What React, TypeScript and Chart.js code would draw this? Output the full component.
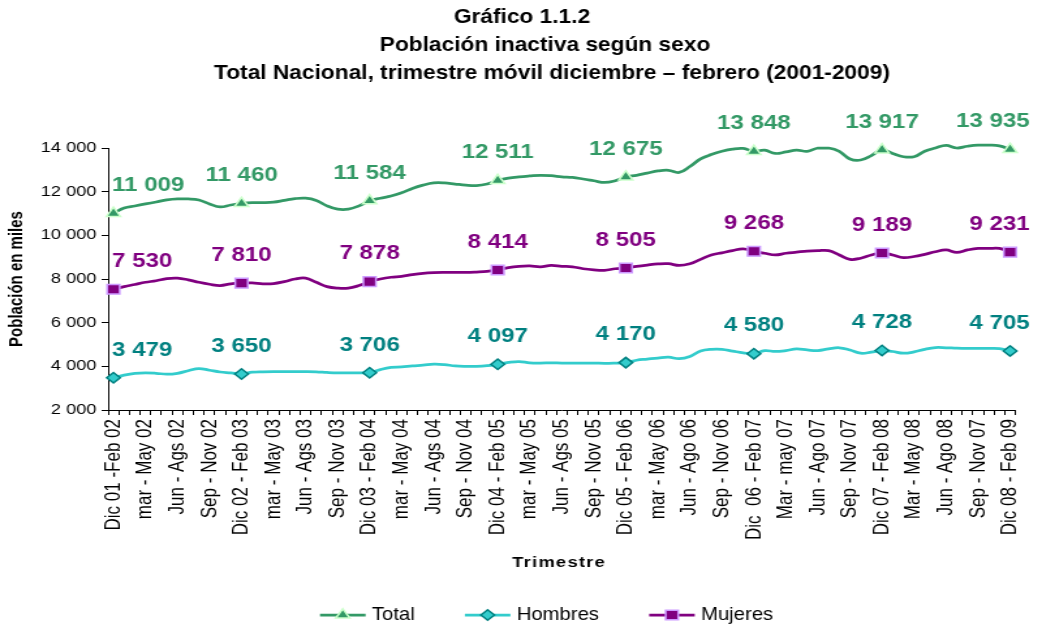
import React, { useEffect, useRef } from "react";
import { Chart, registerables } from "chart.js";

Chart.register(...registerables);

// ---------- DATA ----------
const tickLabels = [
  "Dic 01 -Feb 02", "mar - May 02", "Jun - Ags 02", "Sep - Nov 02",
  "Dic 02 - Feb 03", "mar - May 03", "Jun - Ags 03", "Sep - Nov 03",
  "Dic 03 - Feb 04", "mar - May 04", "Jun - Ags 04", "Sep - Nov 04",
  "Dic 04 - Feb 05", "mar - May 05", "Jun - Ags 05", "Sep - Nov 05",
  "Dic 05 - Feb 06", "mar - May 06", "Jun - Ago 06", "Sep - Nov 06",
  "Dic  06 - Feb 07", "Mar - may 07", "Jun - Ago 07", "Sep - Nov 07",
  "Dic 07 - Feb 08", "Mar - May 08", "Jun - Ago 08", "Sep - Nov 07",
  "Dic 08 - Feb 09",
];

// monthly rolling quarters; only every third one carries a tick label
const categories = Array.from({ length: 85 }, (_, i) => (i % 3 === 0 ? tickLabels[i / 3] : ""));

const total = [
  11009, 11250, 11345, 11437, 11528, 11620, 11665, 11665, 11620, 11437, 11300, 11390, 11460,
  11500, 11500, 11520, 11600, 11680, 11700, 11600, 11350, 11200, 11200, 11350, 11584,
  11700, 11800, 11950, 12150, 12300, 12400, 12400, 12350, 12300, 12280, 12350, 12511,
  12620, 12680, 12720, 12750, 12730, 12680, 12650, 12580, 12500, 12420, 12500, 12675,
  12750, 12850, 12950, 12980, 12880, 13150, 13500, 13700, 13850, 13950, 13980, 13848,
  13900, 13750, 13820, 13900, 13850, 14000, 14000, 13850, 13500, 13450, 13650, 13917,
  13750, 13600, 13600, 13850, 14000, 14120, 14000, 14080, 14130, 14130, 14100, 13935,
];

const hombres = [
  3479, 3600, 3680, 3700, 3680, 3640, 3680, 3800, 3900, 3820, 3740, 3700, 3650,
  3730, 3750, 3760, 3760, 3760, 3760, 3750, 3720, 3700, 3700, 3700, 3706,
  3850, 3950, 3970, 4020, 4050, 4100, 4080, 4020, 4000, 4000, 4030, 4097,
  4180, 4220, 4160, 4150, 4160, 4150, 4150, 4150, 4150, 4140, 4150, 4170,
  4280, 4330, 4380, 4420, 4350, 4450, 4700, 4780, 4780, 4700, 4620, 4580,
  4720, 4680, 4720, 4800, 4750, 4720, 4800, 4850, 4750, 4600, 4650, 4728,
  4680, 4600, 4660, 4780, 4860, 4850, 4830, 4820, 4820, 4820, 4810, 4705,
];

const mujeres = [
  7530, 7650, 7750, 7850, 7920, 8020, 8040, 7960, 7850, 7760, 7700, 7780, 7810,
  7820, 7780, 7790, 7880, 8000, 8040, 7850, 7650, 7580, 7580, 7700, 7878,
  8000, 8080, 8120, 8200, 8260, 8290, 8300, 8300, 8300, 8320, 8350, 8414,
  8520, 8580, 8600, 8560, 8620, 8580, 8560, 8470, 8420, 8400, 8470, 8505,
  8580, 8640, 8690, 8700, 8620, 8700, 8900, 9100, 9200, 9300, 9380, 9268,
  9180, 9100, 9180, 9230, 9280, 9300, 9300, 9100, 8900, 8950, 9100, 9189,
  9100, 8980, 9030, 9130, 9250, 9330, 9220, 9330, 9400, 9400, 9400, 9231,
];

const seriesNames = ["Total", "Hombres", "Mujeres"];
const yTicks = [2000, 4000, 6000, 8000, 10000, 12000, 14000];
const titleLines = [
  "Gráfico 1.1.2",
  "Población inactiva según sexo",
  "Total Nacional, trimestre móvil diciembre – febrero (2001-2009)",
];
const xTitle = "Trimestre";
const yTitle = "Población en miles";

// ---------- STYLE ----------
const FONT = "'Liberation Sans', Arial, Helvetica, sans-serif";
const CANVAS_W = 800;
const CANVAS_H = 626;
const DISPLAY_W = 1042;
const SX = DISPLAY_W / CANVAS_W; // canvas is shown stretched horizontally
const LABEL_EVERY = 12;

const styles = [
  { line: "#339966", fill: "#339966", border: "#ccffcc", point: "triangle", r: 6.2, text: "#339966" },
  { line: "#33cccc", fill: "#33cccc", border: "#008080", point: "rectRot", r: 5.2, text: "#008080" },
  { line: "#800080", fill: "#800080", border: "#cc99ff", point: "rect", r: 6.8, text: "#800080" },
];

const TITLE_CENTERS = [522, 545, 552]; // display px
const TITLE_Y = [17, 45, 73];
const LEGEND_START = 320; // display px
const LEGEND_Y = 615;
const LABEL_RISE = 28;

function fmt(v: number): string {
  return String(Math.round(v)).replace(/\B(?=(\d{3})+(?!\d))/g, " ");
}

function markerPath(g: CanvasRenderingContext2D, style: string, x: number, y: number, r: number) {
  g.beginPath();
  if (style === "triangle") {
    for (let k = 0; k < 3; k++) {
      const a = (k * 2 * Math.PI) / 3;
      const px = x + Math.sin(a) * r;
      const py = y - Math.cos(a) * r;
      if (k === 0) g.moveTo(px, py);
      else g.lineTo(px, py);
    }
  } else if (style === "rect") {
    const s = r * Math.SQRT1_2;
    g.rect(x - s, y - s, 2 * s, 2 * s);
  } else {
    g.moveTo(x - r, y);
    g.lineTo(x, y - r);
    g.lineTo(x + r, y);
    g.lineTo(x, y + r);
  }
  g.closePath();
}

// draw text with an extra horizontal squeeze; x is the left edge (canvas px)
function scaledText(ctx: CanvasRenderingContext2D, txt: string, left: number, y: number, hs: number) {
  ctx.save();
  ctx.translate(left, y);
  ctx.scale(hs, 1);
  ctx.textAlign = "left";
  ctx.textBaseline = "middle";
  ctx.fillText(txt, 0, 0);
  ctx.restore();
}

const decorPlugin = {
  id: "decorPlugin",
  afterDatasetsDraw(chart: any) {
    const ctx: CanvasRenderingContext2D = chart.ctx;
    ctx.save();

    // value labels on the marked points
    const LHS = 0.88;
    ctx.font = `bold 21px ${FONT}`;
    chart.data.datasets.forEach((ds: any, d: number) => {
      const pts = chart.getDatasetMeta(d).data;
      const minLeft = pts[0].x - 1;
      const maxRight = pts[pts.length - 1].x + 15;
      ctx.fillStyle = styles[d].text;
      for (let i = 0; i < pts.length; i += LABEL_EVERY) {
        const el = pts[i];
        const txt = fmt(ds.data[i]);
        const w = ctx.measureText(txt).width * LHS;
        let left = el.x - w / 2;
        if (left < minLeft) left = minLeft;
        if (left + w > maxRight) left = maxRight - w;
        scaledText(ctx, txt, left, el.y - LABEL_RISE, LHS);
      }
    });

    // titles
    const THS = 0.83;
    ctx.fillStyle = "#000";
    ctx.font = `bold 21px ${FONT}`;
    titleLines.forEach((t, i) => {
      const w = ctx.measureText(t).width * THS;
      scaledText(ctx, t, TITLE_CENTERS[i] / SX - w / 2, TITLE_Y[i], THS);
    });

    // x axis title, letter spaced
    const area = chart.chartArea;
    ctx.font = `bold 14px ${FONT}`;
    (ctx as any).letterSpacing = "1px";
    const xw = ctx.measureText(xTitle).width;
    ctx.textAlign = "left";
    ctx.textBaseline = "middle";
    ctx.fillText(xTitle, (area.left + area.right) / 2 - xw / 2 - 2, 563);
    (ctx as any).letterSpacing = "0px";

    // legend: line + marker, then label
    const GHS = 0.82;
    ctx.font = `19px ${FONT}`;
    let x = LEGEND_START / SX;
    const y = LEGEND_Y;
    const symW = 35;
    chart.data.datasets.forEach((ds: any, d: number) => {
      const st = styles[d];
      ctx.strokeStyle = st.line;
      ctx.lineWidth = 2.75;
      ctx.beginPath();
      ctx.moveTo(x, y);
      ctx.lineTo(x + symW, y);
      ctx.stroke();
      markerPath(ctx, st.point, x + symW / 2, y, st.r);
      ctx.fillStyle = st.fill;
      ctx.fill();
      ctx.lineWidth = 1.5;
      ctx.strokeStyle = st.border;
      ctx.stroke();
      const tx = x + symW + 4.8;
      ctx.fillStyle = "#000";
      scaledText(ctx, ds.label, tx, y, GHS);
      x = tx + ctx.measureText(ds.label).width * GHS + 38.5;
    });

    ctx.restore();
  },
};

export default function App() {
  const ref = useRef<HTMLCanvasElement>(null);

  useEffect(() => {
    const canvas = ref.current;
    if (!canvas) return;
    const values = [total, hombres, mujeres];

    const datasets = values.map((data, d) => ({
      label: seriesNames[d],
      data,
      borderColor: styles[d].line,
      backgroundColor: styles[d].fill,
      borderWidth: 2.75,
      tension: 0.4,
      fill: false,
      clip: false as any,
      pointStyle: styles[d].point as any,
      pointRadius: (c: any) => (c.dataIndex % LABEL_EVERY === 0 ? styles[d].r : 0),
      pointHoverRadius: (c: any) => (c.dataIndex % LABEL_EVERY === 0 ? styles[d].r : 0),
      pointBackgroundColor: styles[d].fill,
      pointBorderColor: styles[d].border,
      pointBorderWidth: 1.5,
    }));

    const chart = new Chart(canvas, {
      type: "line",
      data: { labels: categories, datasets },
      options: {
        responsive: false,
        animation: false,
        devicePixelRatio: 1,
        layout: { padding: { top: 148, right: 17, bottom: 0, left: 0 } },
        plugins: {
          title: { display: false },
          legend: { display: false },
          tooltip: { enabled: false },
        },
        scales: {
          x: {
            type: "category",
            offset: true,
            grid: { offset: true, drawOnChartArea: false, color: "#000", tickLength: 5, lineWidth: 1 },
            border: { color: "#000", width: 1 },
            ticks: {
              autoSkip: false,
              minRotation: 90,
              maxRotation: 90,
              padding: 4,
              color: "#000",
              font: { family: FONT, size: 17 },
              callback: (_v: any, i: number) => categories[i],
            },
            afterFit: (s: any) => {
              s.height = CANVAS_H - 410;
            },
          },
          y: {
            min: yTicks[0],
            max: yTicks[yTicks.length - 1],
            afterBuildTicks: (s: any) => {
              s.ticks = yTicks.map((v) => ({ value: v }));
            },
            grid: { drawOnChartArea: false, color: "#000", tickLength: 5, lineWidth: 1 },
            border: { color: "#000", width: 1 },
            ticks: {
              padding: 4,
              color: "#000",
              font: { family: FONT, size: 14 },
              callback: (v: any) => fmt(Number(v)),
            },
            title: {
              display: true,
              text: yTitle,
              color: "#000",
              font: { family: FONT, size: 15, weight: "bold" },
              padding: { top: 4, bottom: 0 },
            },
            afterFit: (s: any) => {
              s.width = 83;
            },
          },
        },
      },
      plugins: [decorPlugin],
    });

    return () => chart.destroy();
  }, []);

  return (
    <div
      style={{
        position: "fixed",
        left: 0,
        top: 0,
        width: DISPLAY_W,
        height: CANVAS_H,
        overflow: "hidden",
        background: "#fff",
      }}
    >
      <canvas
        ref={ref}
        width={CANVAS_W}
        height={CANVAS_H}
        style={{ width: `${DISPLAY_W}px`, height: `${CANVAS_H}px`, display: "block" }}
      />
    </div>
  );
}
